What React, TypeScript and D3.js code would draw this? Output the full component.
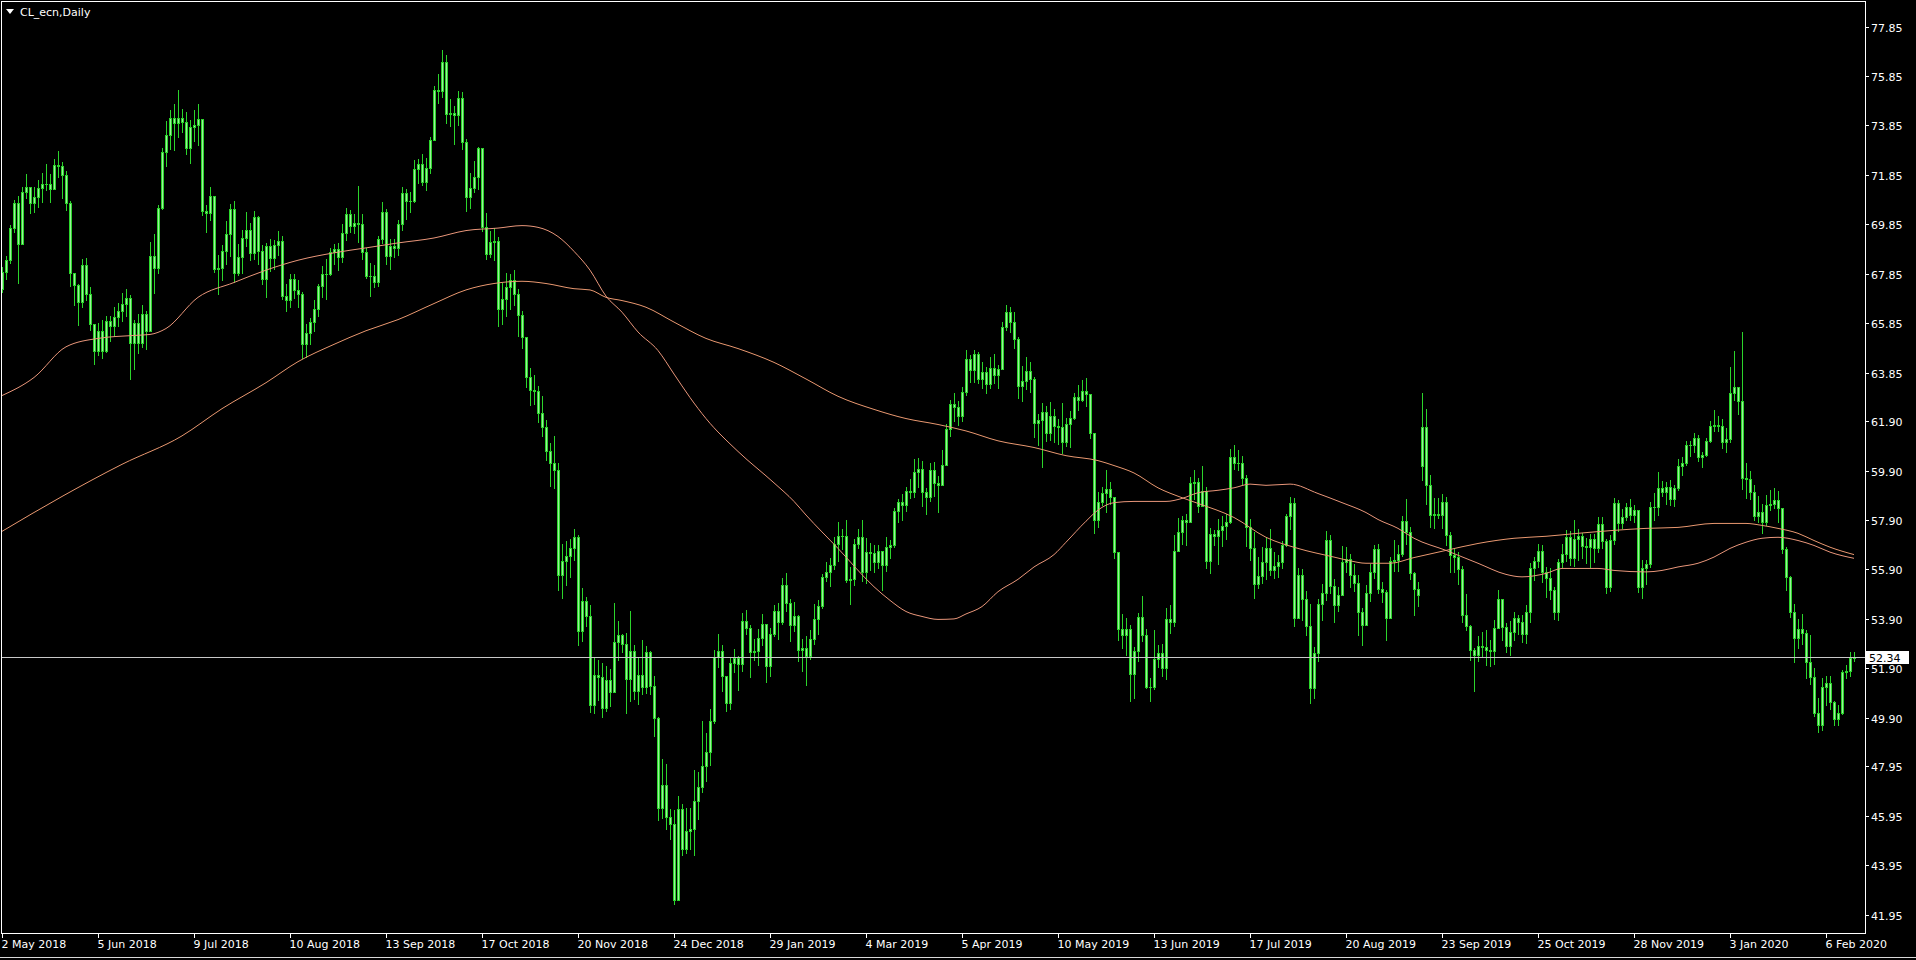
import { useEffect, useRef } from 'react'
import * as d3 from 'd3'

const SYMBOL = 'CL_ecn,Daily'
const FIRST_DAY = '2018-05-02'
const NO_BAR_DAYS = ['2018-12-25', '2019-01-01', '2019-04-19', '2019-12-25', '2020-01-01']
const FIRST_OPEN = 67.25
// bars whose open is not the previous close (weekend gap)
const GAP_OPENS: [number, number][] = [[355, 60.1]]

const CLOSES = [
  67.93, 68.43, 69.72, 70.73, 69.06, 71.14, 71.36, 70.70, 70.96, 71.31, 71.49, 71.49, 71.28, 72.24, 72.20, 71.84, 70.71, 67.88, 67.40, 66.73, 68.21, 67.04,
  65.81, 64.75, 65.52, 64.73, 65.95, 65.74, 66.10, 66.36, 66.64, 66.89, 65.06, 65.85, 65.07, 66.22, 65.54, 68.58, 68.08, 70.53, 72.76, 73.45, 74.15,
  73.94, 74.14, 74.00, 72.94, 73.80, 73.85, 74.11, 70.38, 70.33, 71.01, 68.06, 68.08, 68.76, 69.46, 70.46, 67.89, 68.52, 69.30, 69.61, 68.69, 70.13, 68.76,
  67.66, 68.96, 68.49, 69.01, 69.17, 66.94, 66.81, 67.63, 67.20, 67.04, 65.01, 65.46, 65.91, 66.43, 67.35, 67.86, 67.83, 68.72, 68.87, 68.53, 69.51, 70.25, 69.80,
  69.90, 69.87, 68.72, 67.77, 67.75, 67.54, 69.25, 70.37, 68.59, 68.99, 68.91, 69.85, 71.12, 70.80, 70.78, 72.08, 72.28, 71.57, 72.12, 73.25,
  75.30, 75.23, 76.41, 74.33, 74.34, 74.29, 74.96, 73.17, 70.97, 71.34, 71.78, 72.92, 69.75, 68.65, 69.12, 69.17, 66.43, 66.82, 67.33, 67.59, 67.04, 66.18, 65.31,
  63.69, 63.14, 63.10, 62.21, 61.67, 60.67, 60.19, 59.93, 55.69, 56.25, 56.46, 56.76, 57.20, 53.43, 54.63, 54.00, 50.42, 51.63, 51.56, 50.29, 51.45, 50.93,
  52.95, 53.25, 52.89, 51.49, 52.61, 51.00, 51.65, 51.15, 52.58, 51.20, 49.88, 46.24, 47.20, 45.88, 45.59, 42.53, 46.22, 44.61, 45.33, 45.41,
  46.54, 47.09, 47.96, 48.52, 49.78, 52.36, 52.59, 51.59, 50.51, 52.11, 52.31, 52.07, 53.80, 53.55, 52.57, 52.62, 53.13, 53.69, 51.99, 53.31, 54.23, 53.79,
  55.26, 54.56, 53.66, 54.01, 52.64, 52.72, 52.41, 53.10, 53.90, 54.41, 55.59, 55.80, 56.09, 56.92, 57.26, 57.26, 55.48, 55.50, 56.94, 57.22,
  55.80, 56.59, 56.56, 56.22, 56.66, 56.07, 56.79, 56.87, 58.26, 58.61, 58.52, 59.09, 59.03, 59.83, 59.98, 59.04, 58.82, 59.94, 59.41, 59.30, 60.14,
  61.59, 62.58, 62.46, 62.10, 63.08, 64.40, 63.98, 64.61, 63.58, 63.89, 63.40, 64.05, 63.76, 64.00, 65.70, 66.30, 65.89, 65.21, 63.30, 63.50, 63.91,
  63.60, 61.81, 61.94, 62.25, 61.40, 62.12, 61.70, 61.66, 61.04, 61.78, 62.02, 62.87, 62.76, 63.10, 62.99, 61.42, 57.91, 58.63, 59.00, 59.14, 58.81, 56.59, 53.50,
  53.25, 53.48, 51.68, 52.59, 53.99, 53.26, 51.14, 51.14, 52.28, 52.51, 51.93, 53.90, 53.76, 56.65, 57.43, 57.90, 57.83, 59.38, 59.43, 58.47,
  59.09, 56.25, 57.34, 57.25, 57.51, 57.66, 57.83, 60.43, 60.20, 60.21, 59.58, 57.62, 56.78, 55.30, 55.63, 56.22, 56.77, 55.88, 56.02, 56.20, 56.87, 58.05, 58.58,
  53.95, 55.66, 54.69, 53.63, 51.09, 52.54, 54.50, 54.93, 57.10, 55.23, 54.47, 54.87, 56.21, 56.34, 55.68, 55.35, 54.17, 53.64, 54.93, 55.78, 56.71, 55.10,
  55.00, 53.94, 56.26, 56.30, 56.52, 57.85, 57.40, 55.75, 55.09, 54.85, 61.65, 59.30, 58.11, 58.13, 58.09, 58.64, 57.29, 56.49, 56.41, 55.91, 54.07,
  53.62, 52.64, 52.45, 52.81, 52.75, 52.63, 52.59, 53.55, 54.70, 53.59, 52.81, 53.36, 53.93, 53.78, 53.31, 54.16, 55.97, 56.23, 56.66, 55.81, 55.54, 55.06, 54.18,
  56.20, 56.54, 57.23, 56.35, 57.15, 57.24, 56.86, 56.80, 57.12, 56.77, 57.72, 57.05, 55.21, 57.11, 58.58, 57.77, 58.01, 58.41, 58.11, 58.30, 55.17,
  55.96, 56.10, 58.43, 58.43, 59.20, 59.02, 59.24, 58.76, 59.18, 60.07, 60.21, 60.94, 60.93, 61.22, 60.44, 60.52, 61.11, 61.68, 61.72, 61.68, 61.06,
  61.18, 63.05, 63.27, 62.70, 59.61, 59.56, 59.04, 58.08, 58.23, 57.81, 58.52, 58.54, 58.70, 58.38, 56.74, 55.59, 54.19, 53.14, 53.48, 53.33, 52.14, 51.56,
  50.11, 49.61, 51.15, 51.30, 50.55, 49.85, 50.10, 51.75, 51.80, 52.30, 52.34,
]

const HIGHS = [
  68.13, 68.59, 69.84, 70.84, 71.00, 71.36, 71.89, 71.33, 71.35, 71.63, 71.92, 72.30, 71.87, 72.50, 72.83, 72.37, 72.00, 70.80, 67.90, 67.45, 68.47, 68.50,
  67.30, 65.84, 65.88, 65.99, 66.15, 66.13, 66.50, 66.69, 67.09, 67.23, 67.00, 66.00, 66.21, 66.58, 66.34, 69.15, 69.48, 70.62, 72.92, 74.03, 74.46,
  74.70, 75.27, 74.50, 74.40, 74.05, 74.48, 74.70, 74.00, 70.65, 71.35, 71.00, 68.61, 69.00, 70.00, 70.69, 70.80, 69.05, 69.63, 70.36, 69.89, 70.40, 70.20,
  69.00, 69.10, 69.25, 69.20, 69.60, 69.40, 67.45, 67.85, 67.85, 67.60, 67.10, 65.82, 66.07, 66.78, 67.45, 68.15, 68.44, 68.88, 69.05, 69.10, 69.85, 70.52, 70.45,
  70.25, 71.40, 70.25, 68.90, 68.27, 68.20, 69.40, 70.74, 70.49, 69.24, 69.25, 70.03, 71.35, 71.30, 71.17, 72.47, 72.51, 72.68, 72.52, 73.40,
  75.45, 75.91, 76.90, 76.70, 74.93, 74.63, 75.25, 75.22, 73.30, 71.92, 72.40, 72.99, 72.35, 70.29, 69.60, 69.71, 69.33, 67.49, 67.87, 67.83, 68.00, 67.22, 66.35,
  65.22, 64.05, 63.76, 63.30, 62.93, 61.95, 61.00, 61.28, 60.19, 56.94, 57.04, 57.12, 57.55, 57.30, 55.16, 54.80, 54.45, 52.30, 52.24, 52.10, 51.98, 51.89,
  54.55, 53.80, 53.30, 53.32, 54.22, 52.83, 52.35, 53.05, 52.80, 52.60, 51.61, 49.92, 48.22, 48.05, 46.22, 46.18, 46.75, 46.42, 46.24, 46.26,
  47.78, 47.70, 49.79, 49.28, 50.27, 52.63, 53.31, 52.83, 51.26, 52.34, 52.69, 52.39, 54.12, 54.25, 53.67, 53.07, 53.48, 54.10, 53.37, 53.55, 54.48, 54.54,
  55.55, 55.75, 54.69, 54.59, 54.04, 53.10, 53.20, 53.46, 54.50, 54.67, 55.73, 56.20, 56.35, 57.20, 57.81, 57.55, 57.88, 55.99, 57.14, 57.55,
  57.88, 57.16, 56.98, 56.90, 56.87, 56.30, 57.20, 57.08, 58.40, 58.74, 58.95, 59.23, 59.57, 60.35, 60.39, 60.27, 59.20, 60.21, 60.25, 59.66, 60.73,
  61.79, 62.73, 63.04, 62.70, 63.26, 64.79, 64.55, 64.76, 64.68, 64.27, 64.07, 64.49, 64.61, 64.16, 65.92, 66.60, 66.50, 66.30, 65.31, 64.13, 64.49,
  64.28, 63.70, 62.18, 62.63, 62.50, 62.68, 62.40, 62.00, 62.63, 62.04, 62.29, 63.03, 63.35, 63.55, 63.62, 63.00, 61.41, 59.03, 59.25, 59.92, 59.42, 58.75, 56.56,
  54.10, 53.95, 53.67, 52.78, 54.12, 54.84, 53.50, 51.50, 53.45, 52.85, 52.89, 54.35, 54.47, 57.28, 57.99, 58.07, 58.13, 59.64, 59.93, 59.58,
  60.07, 59.25, 57.59, 57.50, 57.92, 58.08, 58.15, 60.76, 60.94, 60.72, 60.49, 59.70, 57.95, 57.40, 56.40, 56.82, 57.19, 57.55, 56.61, 56.49, 57.05, 58.16, 58.82,
  58.80, 55.96, 55.92, 55.01, 54.50, 52.77, 54.70, 55.30, 57.47, 57.29, 55.53, 55.21, 56.85, 56.81, 56.51, 56.12, 55.67, 54.33, 55.29, 56.10, 56.90, 56.93,
  55.40, 55.06, 56.39, 57.09, 56.87, 58.07, 58.76, 57.61, 55.79, 55.38, 63.05, 62.40, 59.71, 58.77, 58.78, 58.95, 58.81, 57.43, 56.72, 56.60, 56.05,
  54.91, 53.65, 52.71, 53.20, 53.38, 53.46, 53.05, 53.84, 55.08, 54.67, 53.73, 53.82, 54.19, 54.05, 54.07, 54.46, 56.18, 56.41, 56.92, 56.90, 55.98, 55.96, 55.21,
  56.31, 56.92, 57.48, 57.44, 57.88, 57.54, 57.36, 57.18, 57.33, 57.34, 58.00, 58.00, 57.13, 57.31, 58.78, 58.69, 58.35, 58.60, 58.75, 58.50, 58.24,
  56.27, 56.27, 58.63, 59.00, 59.85, 59.48, 59.44, 59.50, 59.31, 60.38, 60.45, 61.10, 61.10, 61.42, 61.35, 60.66, 61.20, 61.92, 62.34, 62.12, 61.97,
  61.60, 64.09, 64.72, 63.15, 65.50, 60.20, 59.89, 59.30, 58.88, 58.56, 58.91, 59.10, 59.20, 59.06, 58.35, 56.82, 55.62, 54.50, 53.88, 54.10, 53.45, 53.25,
  51.90, 50.70, 51.50, 51.60, 51.60, 50.60, 50.40, 51.85, 52.05, 52.55, 52.55,
]

const LOWS = [
  67.10, 67.63, 68.30, 69.55, 67.50, 69.26, 70.93, 70.31, 70.37, 70.56, 70.77, 71.22, 70.77, 71.37, 71.75, 70.92, 70.42, 67.35, 66.60, 65.80, 66.50, 66.80,
  65.57, 64.22, 64.58, 64.44, 64.69, 65.14, 65.35, 65.76, 65.95, 66.13, 63.59, 64.02, 64.67, 64.90, 64.82, 65.63, 67.09, 67.90, 70.46, 72.20, 72.88,
  72.87, 73.37, 73.60, 72.70, 72.32, 73.21, 73.07, 70.21, 69.56, 70.01, 67.93, 67.03, 67.60, 68.23, 68.59, 67.54, 67.82, 67.90, 68.99, 68.40, 68.45, 68.25,
  67.43, 66.92, 67.98, 68.06, 68.60, 66.82, 66.34, 66.50, 66.88, 66.50, 64.43, 64.50, 65.00, 65.55, 66.15, 66.90, 66.82, 67.82, 68.25, 68.00, 68.32, 69.20, 69.56,
  69.50, 69.15, 68.47, 67.68, 66.95, 67.30, 67.37, 69.08, 68.26, 68.05, 68.55, 68.63, 69.63, 70.08, 70.35, 70.77, 71.52, 71.43, 71.23, 71.93,
  73.25, 74.76, 75.00, 73.94, 73.82, 73.11, 73.87, 72.90, 70.41, 70.51, 71.15, 71.27, 69.57, 68.47, 68.52, 68.40, 65.74, 65.82, 66.16, 66.43, 66.58, 65.33, 64.85,
  63.26, 62.56, 62.57, 61.85, 61.31, 60.31, 59.26, 59.21, 55.08, 54.75, 55.28, 55.60, 56.27, 52.83, 53.00, 53.60, 50.15, 50.09, 50.61, 49.95, 50.18, 50.36,
  52.50, 52.23, 52.55, 50.08, 50.60, 50.67, 50.46, 50.88, 50.92, 50.85, 49.15, 45.79, 45.85, 45.41, 44.99, 42.36, 42.80, 44.35, 44.45, 44.60,
  44.35, 45.81, 46.89, 47.36, 48.01, 49.69, 51.95, 50.98, 50.18, 50.26, 51.77, 51.03, 51.81, 53.30, 51.57, 52.22, 52.05, 52.83, 51.33, 51.58, 53.21, 53.08,
  53.69, 54.23, 53.02, 53.40, 52.19, 51.79, 51.23, 52.27, 52.90, 53.27, 54.33, 55.45, 55.25, 55.92, 56.26, 56.74, 55.40, 54.52, 55.28, 56.75,
  55.42, 55.37, 55.87, 55.80, 55.94, 55.08, 55.85, 56.36, 56.81, 57.82, 57.88, 58.25, 58.79, 58.82, 59.24, 58.46, 58.14, 58.66, 58.88, 58.21, 59.33,
  60.37, 61.29, 61.92, 61.72, 61.91, 62.94, 63.48, 63.46, 63.44, 63.23, 63.04, 63.22, 63.43, 63.25, 64.15, 65.56, 65.48, 64.84, 62.85, 62.72, 63.20,
  63.07, 61.24, 60.94, 60.04, 61.08, 61.12, 61.06, 60.98, 60.59, 60.90, 60.85, 61.98, 62.35, 62.69, 62.50, 61.22, 57.38, 57.60, 58.50, 58.23, 58.54, 56.38, 53.05,
  52.72, 52.46, 50.60, 50.72, 52.20, 52.99, 51.11, 50.60, 51.06, 51.94, 51.60, 51.48, 53.33, 53.63, 56.65, 56.92, 56.88, 57.82, 58.75, 58.24,
  58.53, 55.96, 55.76, 56.90, 56.11, 56.83, 57.13, 57.77, 59.96, 59.92, 59.35, 56.85, 56.28, 54.75, 55.14, 55.37, 55.51, 55.66, 55.54, 55.58, 55.95, 56.86, 57.54,
  53.62, 54.06, 53.84, 53.24, 50.52, 50.71, 52.20, 53.85, 54.68, 54.96, 53.77, 54.21, 55.00, 55.81, 55.21, 55.04, 53.24, 52.83, 53.74, 54.63, 55.55, 54.94,
  54.60, 53.04, 54.31, 55.83, 55.83, 56.45, 56.92, 55.52, 54.05, 54.43, 59.50, 58.55, 57.61, 57.57, 57.97, 57.56, 56.88, 55.80, 55.81, 55.32, 53.77,
  53.45, 52.23, 50.99, 52.21, 52.35, 52.02, 51.98, 52.09, 53.52, 53.04, 52.57, 52.45, 53.06, 53.27, 52.98, 52.91, 53.79, 55.48, 55.98, 55.38, 54.78, 54.72, 53.91,
  53.86, 56.00, 56.25, 56.08, 56.05, 56.27, 56.36, 56.17, 56.01, 56.22, 56.62, 56.78, 54.94, 55.03, 56.94, 57.45, 57.56, 57.90, 57.90, 57.80, 55.00,
  54.75, 55.30, 56.00, 57.91, 58.11, 58.85, 58.54, 58.51, 58.46, 59.13, 59.73, 60.11, 60.48, 60.66, 60.28, 60.03, 60.50, 61.07, 61.48, 61.51, 60.82,
  60.63, 61.07, 62.75, 62.17, 59.15, 58.80, 58.73, 57.91, 57.83, 57.36, 57.70, 58.31, 58.40, 57.83, 56.55, 55.07, 53.98, 52.15, 52.72, 52.89, 51.50, 51.28,
  49.97, 49.31, 49.40, 50.40, 50.25, 49.60, 49.60, 50.05, 51.50, 51.60, 52.20,
]

// moving averages as [bar index, price]
const MA_FAST: [number, number][] = [
  [0, 62.93], [8, 63.66], [16, 64.9], [24, 65.24], [33, 65.36], [37, 65.4], [41, 65.64], [49, 66.9], [58, 67.5], [66, 68.0],
  [74, 68.4], [83, 68.7], [91, 68.9], [99, 69.1], [108, 69.3], [116, 69.6], [124, 69.7], [130, 69.8], [134, 69.73], [139, 69.36],
  [143, 68.76], [147, 68.0], [151, 66.95], [155, 66.3], [159, 65.5], [164, 64.75], [168, 63.8], [172, 62.85], [176, 62.0], [184, 60.67],
  [193, 59.4], [198, 58.65], [201, 58.1], [209, 56.75], [218, 55.2], [222, 54.65], [226, 54.2], [230, 54.0], [234, 53.88], [238, 53.9],
  [241, 54.1], [245, 54.4], [249, 55.0], [254, 55.5], [258, 56.0], [263, 56.5], [266, 57.0], [271, 57.85], [274, 58.3], [278, 58.6],
  [283, 58.65], [291, 58.65], [295, 58.77], [299, 59.0], [304, 59.1], [308, 59.2], [312, 59.35], [316, 59.3], [322, 59.35], [329, 58.97],
  [335, 58.6], [341, 58.2], [344, 57.92], [349, 57.56], [353, 57.16], [361, 56.67], [369, 56.15], [376, 55.7], [380, 55.6], [386, 55.74],
  [390, 55.94], [399, 55.94], [403, 55.86], [411, 55.8], [415, 55.86], [419, 56.0], [424, 56.15], [428, 56.4], [432, 56.75], [436, 57.0],
  [440, 57.16], [444, 57.2], [449, 57.07], [453, 56.87], [457, 56.6], [463, 56.35],
]

const MA_SLOW: [number, number][] = [
  [0, 57.44], [15, 58.85], [30, 60.15], [45, 61.3], [55, 62.4], [66, 63.45], [74, 64.3], [83, 65.0], [91, 65.55], [99, 66.0],
  [108, 66.65], [116, 67.2], [123, 67.46], [130, 67.55], [136, 67.46], [143, 67.25], [147, 67.2], [151, 66.9], [155, 66.77], [161, 66.5],
  [168, 65.9], [176, 65.24], [184, 64.83], [193, 64.27], [201, 63.6], [209, 62.9], [218, 62.37], [226, 62.0], [234, 61.76], [241, 61.5],
  [249, 61.1], [258, 60.83], [266, 60.5], [274, 60.3], [278, 60.1], [283, 59.8], [289, 59.2], [295, 58.8], [299, 58.57], [308, 58.0],
  [316, 57.2], [324, 56.75], [333, 56.4], [337, 56.25], [341, 56.15], [347, 56.15], [353, 56.38], [361, 56.67], [369, 56.95], [378, 57.16],
  [386, 57.24], [394, 57.36], [403, 57.48], [411, 57.56], [419, 57.6], [428, 57.76], [436, 57.76], [440, 57.68], [444, 57.56], [449, 57.36],
  [453, 57.07], [457, 56.8], [463, 56.5],
]

const PRICE_TICKS = [77.85, 75.85, 73.85, 71.85, 69.85, 67.85, 65.85, 63.85, 61.9, 59.9, 57.9, 55.9, 53.9, 51.9, 49.9, 47.95, 45.95, 43.95, 41.95]
const DATE_TICKS = [
  '2 May 2018', '5 Jun 2018', '9 Jul 2018', '10 Aug 2018', '13 Sep 2018', '17 Oct 2018', '20 Nov 2018', '24 Dec 2018', '29 Jan 2019', '4 Mar 2019',
  '5 Apr 2019', '10 May 2019', '13 Jun 2019', '17 Jul 2019', '20 Aug 2019', '23 Sep 2019', '25 Oct 2019', '28 Nov 2019', '3 Jan 2020', '6 Feb 2020',
]

const OUTLINE = '#2bd42b'
const INNER = '#9cf09c'
const FONT = '"DejaVu Sans", Tahoma, sans-serif'

function tradingDays(n: number) {
  const out: Date[] = []
  const key = d3.utcFormat('%Y-%m-%d')
  const d = new Date(FIRST_DAY + 'T00:00:00Z')
  while (out.length < n) {
    const wd = d.getUTCDay()
    if (wd !== 0 && wd !== 6 && !NO_BAR_DAYS.includes(key(d))) out.push(new Date(d))
    d.setUTCDate(d.getUTCDate() + 1)
  }
  return out
}

export default function App() {
  const svgRef = useRef<SVGSVGElement>(null)

  useEffect(() => {
    if (!svgRef.current) return
    document.body.style.margin = '0'
    document.body.style.background = '#000'
    const W = 1916, H = 960
    const plotR = 1865, plotB = 933
    const svg = d3.select(svgRef.current)
    svg.selectAll('*').remove()

    const n = CLOSES.length
    const days = tradingDays(n)
    const fmt = d3.utcFormat('%-d %b %Y')

    const x = d3.scaleLinear().domain([0, n - 1]).range([2, 2 + 4 * (n - 1)])
    const y = d3.scaleLinear().domain([41.95, 77.85]).range([914.5, 26.5])

    const gaps = new Map(GAP_OPENS)
    const bars = CLOSES.map((c, i) => {
      const o = gaps.get(i) ?? (i === 0 ? FIRST_OPEN : CLOSES[i - 1])
      return { i, o, c, h: Math.max(HIGHS[i], o, c), l: Math.min(LOWS[i], o, c) }
    })

    svg.append('rect').attr('width', W).attr('height', H).attr('fill', '#000')

    svg.append('defs').append('clipPath').attr('id', 'plot')
      .append('rect').attr('x', 2).attr('y', 2).attr('width', plotR - 2).attr('height', plotB - 2)

    // candles
    const cg = svg.append('g').attr('clip-path', 'url(#plot)').attr('shape-rendering', 'crispEdges')
    bars.forEach(b => {
      const px = Math.round(x(b.i))
      const yh = Math.round(y(b.h)), yl = Math.round(y(b.l))
      cg.append('rect').attr('x', px).attr('y', yh).attr('width', 1).attr('height', yl - yh + 1).attr('fill', OUTLINE)
      const top = Math.round(y(Math.max(b.o, b.c)))
      const bot = Math.round(y(Math.min(b.o, b.c)))
      cg.append('rect').attr('x', px - 1).attr('y', top).attr('width', 3).attr('height', bot - top + 1).attr('fill', OUTLINE)
      if (bot - top >= 2) {
        cg.append('rect').attr('x', px).attr('y', top + 1).attr('width', 1).attr('height', bot - top - 1).attr('fill', INNER)
      }
    })

    // moving averages
    const line = d3.line<[number, number]>().x(d => x(d[0])).y(d => y(d[1])).curve(d3.curveMonotoneX)
    const mg = svg.append('g').attr('clip-path', 'url(#plot)').attr('fill', 'none').attr('stroke-width', 1)
    mg.append('path').attr('d', line(MA_SLOW) ?? '').attr('stroke', '#e99870')
    mg.append('path').attr('d', line(MA_FAST) ?? '').attr('stroke', '#e9967a')

    // current price line
    const last = CLOSES[n - 1]
    const ly = Math.round(y(last)) + 0.5
    svg.append('line').attr('x1', 2).attr('x2', plotR).attr('y1', ly).attr('y2', ly)
      .attr('stroke', '#c8c8c8').attr('stroke-width', 1)

    // frame
    svg.append('rect').attr('x', 1.5).attr('y', 1.5).attr('width', plotR - 1).attr('height', plotB - 1)
      .attr('fill', 'none').attr('stroke', '#ffffff').attr('stroke-width', 1)

    // price axis
    const ax = svg.append('g').attr('font-family', FONT).attr('font-size', 11).attr('fill', '#ffffff')
    PRICE_TICKS.forEach(p => {
      const ty = Math.round(y(p)) + 0.5
      ax.append('line').attr('x1', plotR + 1).attr('x2', plotR + 4).attr('y1', ty).attr('y2', ty).attr('stroke', '#ffffff')
      ax.append('text').attr('x', plotR + 6).attr('y', ty + 4).text(p.toFixed(2))
    })
    svg.append('rect').attr('x', plotR + 1).attr('y', ly - 6.5).attr('width', 43).attr('height', 13).attr('fill', '#ffffff')
    svg.append('text').attr('x', plotR + 4).attr('y', ly + 4).attr('font-family', FONT).attr('font-size', 11)
      .attr('fill', '#000000').text(last.toFixed(2))

    // time axis
    const labels = days.map(d => fmt(d))
    DATE_TICKS.forEach(t => {
      const i = labels.indexOf(t)
      if (i < 0) return
      const tx = Math.round(x(i)) + 0.5
      ax.append('line').attr('x1', tx).attr('x2', tx).attr('y1', plotB + 1).attr('y2', plotB + 5).attr('stroke', '#ffffff')
      ax.append('text').attr('x', tx - 1).attr('y', plotB + 15).text(t)
    })

    // bottom edge
    svg.append('line').attr('x1', 0).attr('x2', W).attr('y1', 957.5).attr('y2', 957.5).attr('stroke', '#d8d8d8')

    // title
    svg.append('path').attr('d', 'M6,9 L14,9 L10,14 Z').attr('fill', '#ffffff')
    svg.append('text').attr('x', 20).attr('y', 16).attr('font-family', FONT).attr('font-size', 11)
      .attr('fill', '#ffffff').text(SYMBOL)

    return () => { svg.selectAll('*').remove() }
  }, [])

  return (
    <div style={{ position: 'fixed', inset: 0, background: '#000' }}>
      <svg ref={svgRef} width={1916} height={960} style={{ display: 'block' }} />
    </div>
  )
}
